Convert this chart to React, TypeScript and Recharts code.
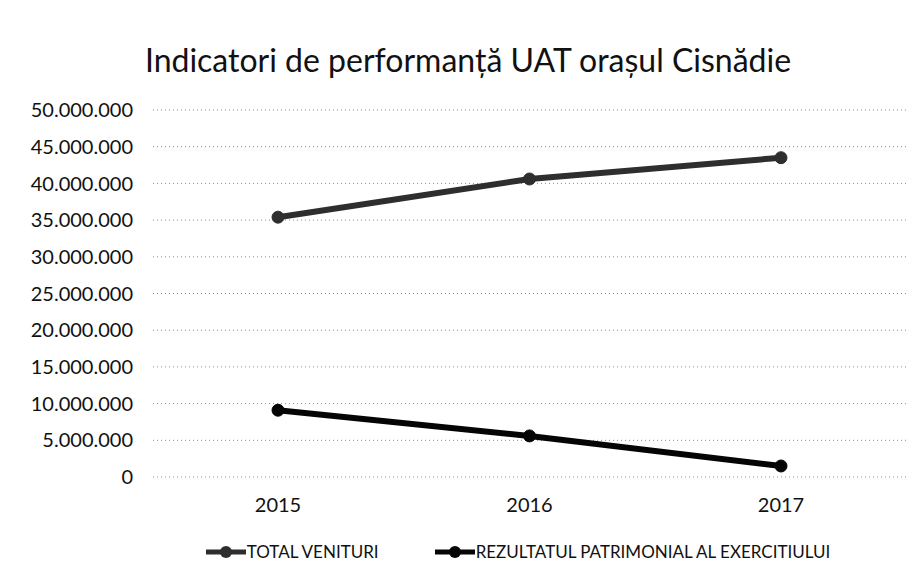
import { CartesianGrid, Legend, Line, LineChart, XAxis, YAxis } from "recharts";

const years = ["2015", "2016", "2017"];
const totalVenituri = [35400000, 40600000, 43500000];
const rezultatPatrimonial = [9100000, 5600000, 1500000];
const yTicks = [0, 5000000, 10000000, 15000000, 20000000, 25000000, 30000000, 35000000, 40000000, 45000000, 50000000];

const data = years.map((year, i) => ({
  year,
  total: totalVenituri[i],
  rezultat: rezultatPatrimonial[i],
}));

const FONT = "Lato, 'Open Sans', sans-serif";

const formatNumber = (v: number) => String(v).replace(/\B(?=(\d{3})+(?!\d))/g, ".");

const series = [
  { key: "total", name: "TOTAL VENITURI", color: "#2e2e2e" },
  { key: "rezultat", name: "REZULTATUL PATRIMONIAL AL EXERCITIULUI", color: "#050505" },
];

const LegendContent = () => (
  <div style={{ display: "flex", justifyContent: "center", alignItems: "center", gap: 56, fontFamily: FONT, fontSize: 17, color: "#111", paddingLeft: 130 }}>
    {series.map((s) => (
      <div key={s.key} style={{ display: "flex", alignItems: "center" }}>
        <svg width={40} height={14}>
          <line x1={0} y1={7} x2={40} y2={7} stroke={s.color} strokeWidth={5} />
          <circle cx={20} cy={7} r={6} fill={s.color} />
        </svg>
        <span style={{ marginLeft: 1 }}>{s.name}</span>
      </div>
    ))}
  </div>
);

const App = () => {
  return (
    <div style={{ position: "absolute", left: 0, top: 0, width: 920, height: 587, background: "#fff" }}>
      <div
        style={{
          position: "absolute",
          top: 40,
          left: 0,
          width: 936,
          textAlign: "center",
          fontFamily: FONT,
          fontSize: 32,
          color: "#111",
          whiteSpace: "nowrap",
        }}
      >
        Indicatori de performanță UAT orașul Cisnădie
      </div>
      <LineChart width={920} height={587} data={data} margin={{ top: 110, right: 14, bottom: 6, left: 0 }}>
        <CartesianGrid vertical={false} stroke="#8a8a8a" strokeDasharray="1 3" />
        <XAxis
          dataKey="year"
          axisLine={false}
          tickLine={false}
          height={64}
          tickMargin={15}
          padding={{ left: 125, right: 125 }}
          tick={{ fill: "#111", fontSize: 20, fontFamily: FONT }}
        />
        <YAxis
          width={153}
          domain={[0, 50000000]}
          ticks={yTicks}
          axisLine={false}
          tickLine={false}
          tickMargin={14}
          tickFormatter={formatNumber}
          tick={{ fill: "#111", fontSize: 20, fontFamily: FONT }}
        />
        <Legend verticalAlign="bottom" height={40} content={<LegendContent />} />
        {series.map((s) => (
          <Line
            key={s.key}
            type="linear"
            dataKey={s.key}
            name={s.name}
            stroke={s.color}
            strokeWidth={6}
            dot={{ r: 6, fill: s.color, stroke: s.color, strokeWidth: 1 }}
            isAnimationActive={false}
          />
        ))}
      </LineChart>
    </div>
  );
};

export default App;
